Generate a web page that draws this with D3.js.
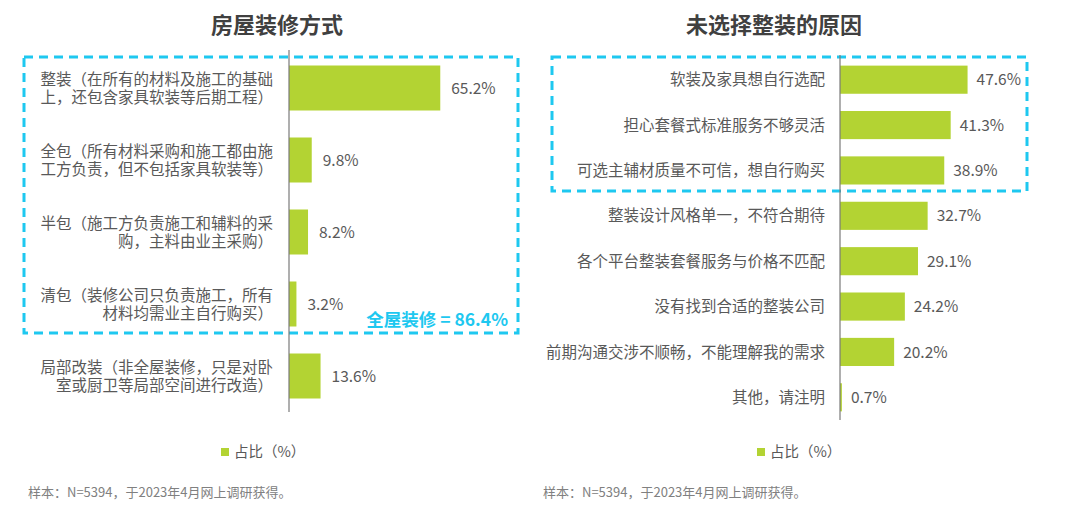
<!DOCTYPE html>
<html>
<head>
<meta charset="utf-8">
<script src="https://cdn.jsdelivr.net/npm/d3@7"></script>
<style>
  html, body { margin: 0; padding: 0; background: #fff; }
  svg { display: block; font-family: "Noto Sans CJK SC", "Noto Sans", sans-serif; }
</style>
</head>
<body>
<div id="chart"></div>
<script>
// left chart: 房屋装修方式
var leftTitle = "房屋装修方式";
var leftCats = [
    ["整装（在所有的材料及施工的基础", "上，还包含家具软装等后期工程）"],
    ["全包（所有材料采购和施工都由施", "工方负责，但不包括家具软装等）"],
    ["半包（施工方负责施工和辅料的采", "购，主料由业主采购）"],
    ["清包（装修公司只负责施工，所有", "材料均需业主自行购买）"],
    ["局部改装（非全屋装修，只是对卧", "室或厨卫等局部空间进行改造）"]
];
var leftVals = [65.2, 9.8, 8.2, 3.2, 13.6];
var leftNote = "全屋装修 = 86.4%";

// right chart: 未选择整装的原因
var rightTitle = "未选择整装的原因";
var rightCats = [
    "软装及家具想自行选配",
    "担心套餐式标准服务不够灵活",
    "可选主辅材质量不可信，想自行购买",
    "整装设计风格单一，不符合期待",
    "各个平台整装套餐服务与价格不匹配",
    "没有找到合适的整装公司",
    "前期沟通交涉不顺畅，不能理解我的需求",
    "其他，请注明"
];
var rightVals = [47.6, 41.3, 38.9, 32.7, 29.1, 24.2, 20.2, 0.7];

var legendLabel = "占比（%）";
var footnote = "样本：N=5394，于2023年4月网上调研获得。";

var width = 1080, height = 510;
var barColor = "#b3d333",
    textColor = "#595959",
    boxColor = "#1ec8f0";

var svg = d3.select("#chart").append("svg")
    .attr("width", width)
    .attr("height", height)
    .attr("viewBox", "0,0," + width + "," + height);

function drawPanel(opt){
    var n = opt.cats.length;
    var g = svg.append("g").attr("class", "panel");

    var xScale = d3.scaleLinear()
        .domain([0, 100])
        .range([opt.x0, opt.x0 + opt.pxPer * 100]);

    var yScale = d3.scaleBand()
        .domain(d3.range(n))
        .range([opt.y0, opt.y1])
        .paddingInner(opt.pad)
        .paddingOuter(opt.pad / 2);

    // title
    g.append("text")
        .attr("x", opt.titleX)
        .attr("y", 33)
        .attr("text-anchor", "middle")
        .attr("font-size", 22)
        .attr("font-weight", "bold")
        .attr("fill", "#404040")
        .text(opt.title);

    // dashed highlight box
    g.append("rect")
        .attr("x", opt.box[0])
        .attr("y", opt.box[1])
        .attr("width", opt.box[2] - opt.box[0])
        .attr("height", opt.box[3] - opt.box[1])
        .attr("fill", "none")
        .attr("stroke", boxColor)
        .attr("stroke-width", 3)
        .attr("stroke-dasharray", "9,6");

    // bars
    g.selectAll("rect.bar").data(opt.vals).enter().append("rect")
        .attr("class", "bar")
        .attr("x", xScale(0))
        .attr("y", (d, i) => yScale(i))
        .attr("width", d => xScale(d) - xScale(0))
        .attr("height", yScale.bandwidth())
        .attr("fill", barColor);

    // axis line
    g.append("line")
        .attr("x1", xScale(0)).attr("x2", xScale(0))
        .attr("y1", opt.y0 - 2).attr("y2", opt.y1)
        .attr("stroke", "#7a7a7a")
        .attr("stroke-width", 1.2);

    // value labels
    g.selectAll("text.val").data(opt.vals).enter().append("text")
        .attr("class", "val")
        .attr("x", d => xScale(d) + opt.valGap)
        .attr("y", (d, i) => yScale(i) + yScale.bandwidth() / 2)
        .attr("dy", "0.36em")
        .attr("font-size", 15.5)
        .attr("fill", textColor)
        .text(d => d.toFixed(1) + "%");

    // category labels, wrapped ones get two tspans
    var labels = g.selectAll("text.cat").data(opt.cats).enter().append("text")
        .attr("class", "cat")
        .attr("text-anchor", "end")
        .attr("font-size", 15.5)
        .attr("fill", textColor)
        .attr("y", (d, i) => yScale(i) + yScale.bandwidth() / 2);
    labels.each(function(d){
        var lines = Array.isArray(d) ? d : [d];
        var t = d3.select(this);
        lines.forEach(function(line, k){
            t.append("tspan")
                .attr("x", xScale(0) - opt.labelGap)
                .attr("dy", k === 0 ? (0.36 - (lines.length - 1) * 0.58) + "em" : "1.16em")
                .text(line);
        });
    });

    // legend
    var lg = g.append("g").attr("transform", "translate(" + opt.legendX + ",452)");
    lg.append("rect")
        .attr("x", 0).attr("y", -4)
        .attr("width", 8).attr("height", 8)
        .attr("fill", barColor);
    lg.append("text")
        .attr("x", 13)
        .attr("dy", "0.36em")
        .attr("font-size", 14.5)
        .attr("fill", textColor)
        .text(legendLabel);

    // footnote
    g.append("text")
        .attr("x", opt.noteX)
        .attr("y", 497)
        .attr("font-size", 13)
        .attr("fill", "#808080")
        .text(footnote);

    return g;
}

var left = drawPanel({
    title: leftTitle, titleX: 277,
    cats: leftCats, vals: leftVals,
    x0: 289, pxPer: 2.32,
    y0: 52, y1: 412, pad: 0.375,
    valGap: 11, labelGap: 16,
    box: [24, 57, 518, 333],
    legendX: 221, noteX: 28
});

left.append("text")
    .attr("x", 508)
    .attr("y", 326)
    .attr("text-anchor", "end")
    .attr("font-size", 17.5)
    .attr("font-weight", "bold")
    .attr("fill", boxColor)
    .attr("xml:space", "preserve")
    .text(leftNote);

drawPanel({
    title: rightTitle, titleX: 774,
    cats: rightCats, vals: rightVals,
    x0: 840, pxPer: 2.68,
    y0: 57, y1: 420, pad: 0.38,
    valGap: 9, labelGap: 15,
    box: [552, 57, 1027, 191],
    legendX: 757, noteX: 543
});
</script>
</body>
</html>
